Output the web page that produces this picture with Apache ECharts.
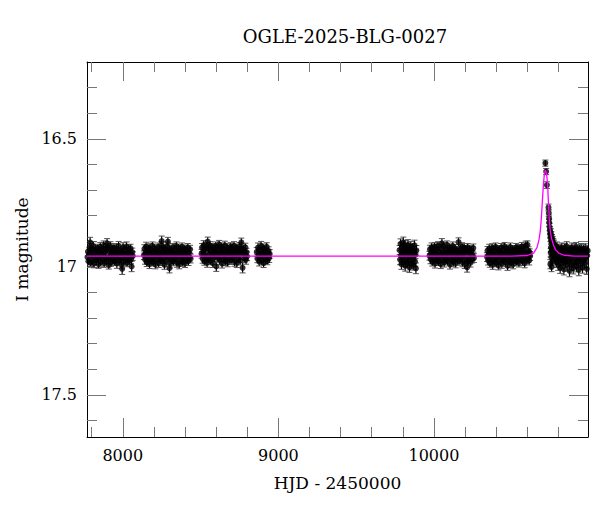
<!DOCTYPE html>
<html>
<head>
<meta charset="utf-8">
<script src="https://cdn.jsdelivr.net/npm/echarts@6/dist/echarts.min.js"></script>
<style>html,body{margin:0;padding:0;background:#fff}#c{width:600px;height:512px}</style>
</head>
<body>
<div id="c"></div>
<script>
// ---- data: [HJD-2450000, I mag, error] ----
const season1 = [[7773,16.962,0.016],[7776,16.941,0.018],[7779,16.978,0.015],[7783,16.950,0.017],[7786,16.925,0.016],[7790,16.905,0.020],[7793,16.984,0.015],[7797,16.946,0.017],[7801,16.931,0.016],[7804,16.972,0.018],[7808,16.957,0.015],[7811,16.919,0.017],[7815,16.988,0.016],[7819,16.944,0.018],[7822,16.963,0.015],[7826,16.935,0.017],[7830,16.975,0.016],[7833,16.952,0.019],[7837,16.927,0.015],[7841,16.966,0.017],[7844,16.990,0.016],[7848,16.940,0.018],[7852,16.958,0.015],[7855,16.922,0.017],[7859,16.981,0.016],[7863,16.948,0.018],[7866,16.936,0.015],[7870,16.970,0.017],[7874,16.955,0.016],[7877,16.917,0.018],[7881,16.986,0.015],[7885,16.943,0.017],[7888,16.961,0.016],[7892,16.930,0.019],[7896,16.977,0.015],[7899,16.908,0.018],[7903,16.924,0.016],[7907,16.967,0.018],[7910,16.994,0.015],[7914,16.938,0.017],[7918,16.959,0.016],[7921,16.920,0.018],[7925,16.983,0.015],[7929,16.945,0.017],[7932,16.933,0.016],[7936,16.971,0.018],[7940,16.953,0.015],[7943,16.926,0.017],[7947,16.979,0.016],[7951,16.947,0.018],[7954,16.964,0.015],[7958,16.929,0.017],[7962,16.987,0.019],[7965,16.942,0.016],[7969,16.956,0.015],[7973,16.918,0.017],[7976,16.974,0.016],[7980,16.950,0.018],[7984,16.937,0.015],[7987,16.968,0.017],[7991,16.992,0.016],[7995,16.944,0.018],[7996,17.008,0.022],[7998,16.960,0.015],[8002,16.923,0.017],[8006,16.980,0.016],[8009,16.949,0.018],[8013,16.934,0.015],[8017,16.973,0.017],[8020,16.954,0.016],[8024,16.921,0.018],[8028,16.985,0.015],[8031,16.946,0.017],[8035,16.962,0.016],[8039,16.932,0.019],[8042,16.976,0.015],[8046,16.952,0.017],[8050,16.928,0.016],[8053,16.970,0.018],[8057,16.999,0.020],[8061,16.943,0.016],[8064,16.958,0.017]];
const season2 = [[8136,16.955,0.017],[8139,16.930,0.016],[8143,16.972,0.018],[8147,16.948,0.015],[8150,16.921,0.017],[8154,16.983,0.016],[8158,16.961,0.018],[8161,16.939,0.015],[8165,16.967,0.017],[8169,16.926,0.016],[8172,16.989,0.018],[8176,16.950,0.015],[8180,16.935,0.017],[8183,16.974,0.016],[8187,16.957,0.018],[8191,16.918,0.015],[8194,16.980,0.017],[8198,16.944,0.016],[8202,16.963,0.019],[8205,16.929,0.015],[8209,16.991,0.017],[8213,16.952,0.016],[8216,16.937,0.018],[8220,16.969,0.015],[8224,16.946,0.017],[8227,16.923,0.016],[8231,16.985,0.018],[8235,16.959,0.015],[8238,16.933,0.017],[8242,16.971,0.016],[8246,16.954,0.018],[8249,16.916,0.015],[8250,16.900,0.020],[8253,16.978,0.017],[8257,16.941,0.016],[8260,16.965,0.018],[8264,16.927,0.015],[8268,16.993,0.017],[8271,16.949,0.016],[8275,16.936,0.018],[8279,16.975,0.015],[8282,16.958,0.017],[8286,16.920,0.016],[8290,16.902,0.017],[8293,16.945,0.015],[8297,16.962,0.017],[8300,17.005,0.019],[8301,16.931,0.016],[8304,16.987,0.018],[8308,16.953,0.015],[8312,16.938,0.017],[8315,16.970,0.016],[8319,16.947,0.018],[8323,16.924,0.015],[8326,16.979,0.017],[8330,16.956,0.016],[8334,16.934,0.018],[8337,16.968,0.015],[8341,16.951,0.017],[8345,16.919,0.016],[8348,16.984,0.018],[8352,16.943,0.015],[8356,16.960,0.017],[8359,16.928,0.016],[8363,16.990,0.018],[8367,16.948,0.015],[8370,16.935,0.017],[8374,16.973,0.016],[8378,16.957,0.018],[8381,16.922,0.015],[8385,16.981,0.017],[8389,16.942,0.016],[8392,16.964,0.018],[8396,16.930,0.015],[8400,16.986,0.017],[8403,16.950,0.016],[8407,16.937,0.018],[8411,16.972,0.015],[8414,16.955,0.017],[8418,16.925,0.016],[8422,16.977,0.018],[8425,16.944,0.015],[8429,16.962,0.017],[8433,16.932,0.016],[8436,16.968,0.017]];
const season3 = [[8506,16.949,0.017],[8509,16.925,0.016],[8513,16.968,0.018],[8517,16.940,0.015],[8520,16.915,0.017],[8524,16.978,0.016],[8528,16.955,0.018],[8531,16.933,0.015],[8535,16.962,0.017],[8539,16.920,0.016],[8542,16.984,0.018],[8546,16.902,0.018],[8550,16.930,0.017],[8553,16.969,0.016],[8557,16.951,0.018],[8561,16.917,0.015],[8564,16.975,0.017],[8568,16.939,0.016],[8572,16.958,0.019],[8575,16.924,0.015],[8579,16.986,0.017],[8583,16.947,0.016],[8586,16.932,0.018],[8590,16.964,0.015],[8594,16.941,0.017],[8597,16.919,0.016],[8601,16.999,0.019],[8605,16.954,0.015],[8608,16.928,0.017],[8612,16.966,0.016],[8616,16.949,0.018],[8619,16.912,0.015],[8623,16.973,0.017],[8627,16.936,0.016],[8630,16.960,0.018],[8634,16.922,0.015],[8638,16.988,0.017],[8641,16.945,0.016],[8645,16.931,0.018],[8649,16.970,0.015],[8652,16.953,0.017],[8656,16.916,0.016],[8660,16.977,0.018],[8663,16.940,0.015],[8667,16.957,0.017],[8671,16.926,0.016],[8674,16.982,0.018],[8678,16.948,0.015],[8682,16.934,0.017],[8685,16.965,0.016],[8689,16.943,0.018],[8693,16.921,0.015],[8696,16.974,0.017],[8700,16.952,0.016],[8704,16.929,0.018],[8707,16.963,0.015],[8711,16.946,0.017],[8715,16.918,0.016],[8718,16.980,0.018],[8722,16.938,0.015],[8726,16.956,0.017],[8729,16.927,0.016],[8733,16.985,0.018],[8737,16.944,0.015],[8740,16.933,0.017],[8744,16.967,0.016],[8748,16.951,0.018],[8751,16.920,0.015],[8755,16.976,0.017],[8759,16.939,0.016],[8762,16.905,0.017],[8766,16.930,0.015],[8770,17.004,0.020],[8773,16.947,0.016],[8777,16.935,0.018],[8781,16.968,0.015],[8784,16.954,0.017],[8788,16.924,0.016],[8792,16.972,0.018],[8795,16.943,0.015],[8799,16.959,0.017]];
const season4 = [[8861,16.942,0.017],[8865,16.968,0.016],[8869,16.925,0.018],[8873,16.955,0.015],[8877,16.980,0.017],[8881,16.936,0.016],[8885,16.961,0.018],[8889,16.918,0.017],[8893,16.974,0.016],[8897,16.948,0.015],[8901,16.929,0.018],[8905,16.986,0.017],[8909,16.952,0.016],[8913,16.933,0.015],[8917,16.970,0.017],[8921,16.945,0.018],[8925,16.922,0.016],[8929,16.977,0.015],[8933,16.958,0.017],[8937,16.938,0.016],[8941,16.965,0.018],[8944,16.950,0.017]];
const season5 = [[9779,16.935,0.018],[9782,16.972,0.020],[9785,16.910,0.019],[9788,16.955,0.018],[9791,16.990,0.020],[9794,16.925,0.019],[9797,16.963,0.018],[9800,16.943,0.020],[9803,16.905,0.021],[9806,16.981,0.019],[9809,16.950,0.018],[9812,16.918,0.020],[9815,16.996,0.021],[9818,16.938,0.019],[9821,16.967,0.018],[9824,16.929,0.020],[9827,16.985,0.019],[9830,16.952,0.018],[9833,16.914,0.020],[9836,16.975,0.019],[9839,16.945,0.021],[9842,17.002,0.020],[9845,16.932,0.018],[9848,16.960,0.019],[9851,16.921,0.020],[9854,16.988,0.018],[9857,16.948,0.019],[9860,16.969,0.021],[9863,16.927,0.018],[9866,16.993,0.020],[9869,16.940,0.019],[9872,16.958,0.018],[9875,16.916,0.020],[9878,16.979,0.019],[9881,16.950,0.018],[9884,17.006,0.021],[9887,16.936,0.019]];
const season6 = [[9971,16.957,0.017],[9974,16.932,0.016],[9978,16.970,0.018],[9982,16.946,0.015],[9985,16.924,0.017],[9989,16.981,0.016],[9993,16.953,0.018],[9996,16.936,0.015],[10000,16.965,0.017],[10004,16.921,0.016],[10007,16.987,0.018],[10011,16.948,0.015],[10015,16.931,0.017],[10018,16.972,0.016],[10022,16.955,0.018],[10026,16.917,0.015],[10029,16.978,0.017],[10033,16.942,0.016],[10037,16.960,0.019],[10040,16.927,0.015],[10044,16.990,0.017],[10048,16.951,0.016],[10051,16.908,0.018],[10055,16.968,0.015],[10059,16.944,0.017],[10062,16.920,0.016],[10066,16.983,0.018],[10070,16.957,0.015],[10073,16.934,0.017],[10077,16.971,0.016],[10081,16.949,0.018],[10084,16.914,0.015],[10088,16.976,0.017],[10092,16.940,0.016],[10095,16.962,0.018],[10099,16.926,0.015],[10103,16.992,0.017],[10106,16.947,0.016],[10110,16.933,0.018],[10114,16.974,0.015],[10117,16.956,0.017],[10121,16.919,0.016],[10125,16.980,0.018],[10128,16.943,0.015],[10132,16.961,0.017],[10136,16.929,0.016],[10139,16.986,0.018],[10143,16.950,0.015],[10147,16.937,0.017],[10150,16.969,0.016],[10154,16.945,0.018],[10158,16.904,0.017],[10161,16.977,0.017],[10165,16.953,0.016],[10169,16.930,0.018],[10172,16.966,0.015],[10176,16.948,0.017],[10180,16.922,0.016],[10183,16.982,0.018],[10187,16.941,0.015],[10191,16.959,0.017],[10194,16.925,0.016],[10198,16.989,0.018],[10202,16.946,0.015],[10205,16.935,0.017],[10209,16.973,0.016],[10213,17.002,0.019],[10216,16.924,0.015],[10220,16.979,0.017],[10224,16.944,0.016],[10227,16.963,0.018],[10231,16.931,0.015],[10235,16.984,0.017],[10238,16.952,0.016],[10242,16.938,0.018],[10246,16.970,0.015],[10249,16.955,0.017],[10253,16.927,0.016],[10257,16.966,0.017]];
const season7 = [[10341,16.962,0.017],[10344,16.937,0.016],[10348,16.975,0.018],[10352,16.951,0.015],[10355,16.929,0.017],[10359,16.986,0.016],[10363,16.958,0.018],[10366,16.941,0.015],[10370,16.970,0.017],[10374,16.926,0.016],[10377,16.992,0.018],[10381,16.953,0.015],[10385,16.936,0.017],[10388,16.977,0.016],[10392,16.960,0.018],[10396,16.922,0.015],[10399,16.983,0.017],[10403,16.947,0.016],[10407,16.965,0.019],[10410,16.932,0.015],[10414,16.995,0.017],[10418,16.956,0.016],[10421,16.939,0.018],[10425,16.973,0.015],[10429,16.949,0.017],[10432,16.925,0.016],[10436,16.988,0.018],[10440,16.961,0.015],[10443,16.935,0.017],[10447,16.974,0.016],[10451,16.952,0.018],[10454,16.920,0.015],[10458,16.981,0.017],[10462,16.944,0.016],[10465,16.967,0.018],[10469,16.930,0.015],[10473,16.997,0.017],[10476,16.954,0.016],[10480,16.940,0.018],[10484,16.976,0.015],[10487,16.959,0.017],[10491,16.923,0.016],[10495,16.985,0.018],[10498,16.946,0.015],[10502,16.964,0.017],[10506,16.933,0.016],[10509,16.990,0.018],[10513,16.950,0.015],[10517,16.937,0.017],[10520,16.972,0.016],[10524,16.957,0.018],[10528,16.924,0.015],[10531,16.979,0.017],[10535,16.943,0.016],[10539,16.962,0.018],[10542,16.928,0.015],[10546,16.984,0.017],[10550,16.949,0.016],[10553,16.934,0.018],[10557,16.968,0.015],[10561,16.955,0.017],[10564,16.921,0.016],[10568,16.977,0.018],[10572,16.942,0.015],[10575,16.960,0.017],[10579,16.927,0.016],[10583,16.986,0.018],[10586,16.948,0.015],[10590,16.917,0.017],[10594,16.971,0.016],[10597,16.953,0.018],[10601,16.914,0.015],[10605,16.966,0.017],[10608,16.938,0.016],[10612,16.975,0.018],[10615,16.945,0.015],[10618,16.958,0.017]];
const peak = [[10716,16.595,0.012],[10721,16.628,0.012],[10726,16.681,0.013],[10736,16.768,0.013],[10738,16.790,0.013],[10740,16.812,0.014],[10741,16.828,0.014],[10743,16.845,0.014],[10745,16.858,0.015]];
const season8 = [[10747,16.872,0.016],[10748,16.990,0.018],[10749,16.885,0.016],[10750,16.945,0.017],[10751,16.868,0.017],[10752,16.925,0.017],[10753,16.897,0.016],[10754,16.962,0.018],[10755,16.880,0.017],[10756,17.000,0.019],[10757,16.905,0.018],[10758,16.935,0.017],[10759,16.891,0.017],[10761,16.918,0.018],[10762,16.978,0.019],[10763,16.899,0.017],[10765,16.930,0.018],[10766,16.952,0.018],[10767,16.908,0.019],[10770,16.944,0.018],[10772,16.915,0.019],[10775,16.958,0.020],[10778,16.926,0.018],[10781,16.970,0.020],[10784,16.935,0.019],[10787,16.982,0.021],[10790,16.922,0.019],[10793,16.961,0.020],[10796,16.940,0.018],[10799,16.993,0.021],[10802,16.931,0.019],[10805,16.972,0.020],[10808,16.950,0.018],[10811,17.004,0.022],[10814,16.937,0.019],[10817,16.966,0.020],[10820,16.925,0.018],[10823,16.987,0.021],[10826,16.946,0.019],[10829,16.975,0.020],[10832,16.933,0.018],[10835,17.010,0.022],[10838,16.954,0.019],[10841,16.929,0.020],[10844,16.981,0.021],[10847,16.944,0.018],[10850,16.967,0.020],[10853,16.921,0.019],[10856,16.995,0.022],[10859,16.952,0.019],[10862,16.938,0.018],[10865,16.977,0.021],[10868,16.959,0.020],[10871,17.016,0.023],[10874,16.934,0.019],[10877,16.970,0.020],[10880,16.947,0.018],[10883,16.991,0.022],[10886,16.926,0.019],[10889,16.963,0.020],[10892,16.942,0.018],[10895,17.006,0.022],[10898,16.955,0.019],[10901,16.930,0.020],[10904,16.984,0.021],[10907,16.949,0.018],[10910,16.972,0.020],[10913,16.924,0.019],[10916,16.998,0.022],[10919,16.957,0.019],[10922,16.936,0.018],[10925,16.979,0.021],[10928,16.945,0.020],[10931,17.012,0.023],[10934,16.932,0.019],[10937,16.968,0.020],[10940,16.951,0.018],[10943,16.989,0.022],[10946,16.928,0.019],[10949,16.965,0.020],[10952,16.940,0.018],[10955,17.003,0.022],[10958,16.953,0.019],[10961,16.934,0.020],[10964,16.976,0.021],[10967,16.948,0.018],[10970,16.985,0.020],[10973,16.929,0.019],[10976,16.962,0.020],[10979,16.943,0.018],[10982,17.008,0.022],[10985,16.956,0.019],[10988,16.937,0.020],[10991,16.971,0.021]];
// model light curve (magenta)
const modelHjd = [7770,10500,10600,10640,10662,10675,10683,10689,10694,10699,10704,10709,10714,10718,10722,10727,10732,10737,10742,10748,10756,10768,10782,10805,10840,10900,10990];
const modelMag = [16.958,16.958,16.956,16.947,16.925,16.895,16.862,16.820,16.772,16.720,16.675,16.642,16.626,16.624,16.632,16.655,16.700,16.765,16.822,16.862,16.890,16.915,16.934,16.948,16.955,16.958,16.958];
// axis ticks
const xMajor = [8000,9000,10000];
const xMinor = [7800,8200,8400,8600,8800,9200,9400,9600,9800,10200,10400,10600,10800];
const yMajor = [16.5,17,17.5];
const yMinor = [16.3,16.4,16.6,16.7,16.8,16.9,17.1,17.2,17.3,17.4,17.6];
const xRange = [7770,10990];
const yRange = [16.2,17.665];
const titleText = 'OGLE-2025-BLG-0027';
const xName = 'HJD - 2450000';
const yName = 'I magnitude';

const FONT = 'DejaVu Serif';
const TICK = '#777';
const obs = [].concat(season1, season2, season3, season4, season5, season6, season7, peak, season8);
const model = modelHjd.map((t, i) => [t, modelMag[i]]);

function xAx(pos, ticks, len, labels, line) {
  return {
    type: 'value', position: pos, min: xRange[0], max: xRange[1],
    axisLine: {show: line, lineStyle: {color: '#000', width: 1}},
    axisTick: {show: true, inside: true, length: len, customValues: ticks, lineStyle: {color: TICK, width: 1}},
    axisLabel: labels ? {show: true, customValues: ticks, formatter: v => String(v), fontFamily: FONT, fontSize: 16, color: '#000', margin: 10} : {show: false},
    splitLine: {show: false}
  };
}
function yAx(pos, ticks, len, labels, line) {
  return {
    type: 'value', position: pos, inverse: true, min: yRange[0], max: yRange[1],
    axisLine: {show: line, lineStyle: {color: '#000', width: 1}},
    axisTick: {show: true, inside: true, length: len, customValues: ticks, lineStyle: {color: TICK, width: 1}},
    axisLabel: labels ? {show: true, customValues: ticks, formatter: v => String(v), fontFamily: FONT, fontSize: 16, color: '#000', margin: 10} : {show: false},
    splitLine: {show: false}
  };
}
const xAxes = [xAx('bottom', xMajor, 19, true, true), xAx('bottom', xMinor, 10, false, false), xAx('top', xMajor, 19, false, true), xAx('top', xMinor, 10, false, false)];
xAxes[0].name = xName; xAxes[0].nameLocation = 'middle'; xAxes[0].nameGap = 37;
xAxes[0].nameTextStyle = {fontFamily: FONT, fontSize: 17, color: '#000'};
const yAxes = [yAx('left', yMajor, 19, true, true), yAx('left', yMinor, 10, false, false), yAx('right', yMajor, 19, false, true), yAx('right', yMinor, 10, false, false)];
yAxes[0].name = yName; yAxes[0].nameLocation = 'middle'; yAxes[0].nameGap = 54; yAxes[0].nameRotate = 90;
yAxes[0].nameTextStyle = {fontFamily: FONT, fontSize: 17, color: '#000'};

const chart = echarts.init(document.getElementById('c'), null, {renderer: 'svg'});
chart.setOption({
  animation: false,
  backgroundColor: '#fff',
  title: {text: titleText, left: 340, top: 22, textAlign: 'center', textStyle: {fontFamily: FONT, fontSize: 18, fontWeight: 'normal', color: '#000'}},
  grid: {left: 87, right: 12, top: 62, bottom: 75, containLabel: false, outerBoundsMode: 'none'},
  xAxis: xAxes,
  yAxis: yAxes,
  series: [
    {
      type: 'custom', name: 'err', data: obs, clip: true, z: 2,
      encode: {x: 0, y: 1},
      renderItem: function (params, api) {
        const t = api.value(0), m = api.value(1), e = api.value(2);
        const a = api.coord([t, m - e]), b = api.coord([t, m + e]);
        const hw = 3;
        return {type: 'group', children: [
          {type: 'line', shape: {x1: a[0], y1: a[1], x2: b[0], y2: b[1]}, style: {stroke: '#000', lineWidth: 1.2}},
          {type: 'line', shape: {x1: a[0] - hw, y1: a[1], x2: a[0] + hw, y2: a[1]}, style: {stroke: '#555', lineWidth: 1}},
          {type: 'line', shape: {x1: b[0] - hw, y1: b[1], x2: b[0] + hw, y2: b[1]}, style: {stroke: '#555', lineWidth: 1}}
        ]};
      }
    },
    {
      type: 'scatter', name: 'obs', data: obs.map(p => [p[0], p[1]]), symbol: 'circle', symbolSize: 6,
      itemStyle: {color: '#000'}, z: 3, clip: true
    },
    {
      type: 'line', name: 'model', data: model, showSymbol: false, symbol: 'none', z: 4,
      lineStyle: {color: '#ff00ff', width: 1.3}, clip: true
    }
  ]
});
</script>
</body>
</html>
